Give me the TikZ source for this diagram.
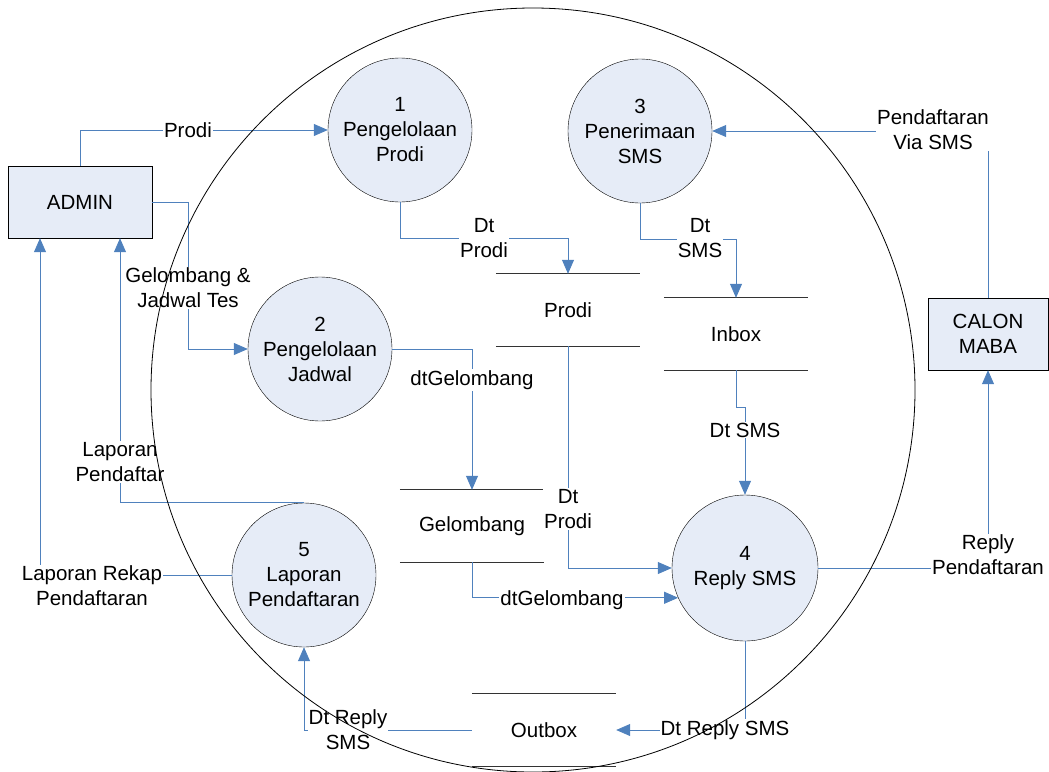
\documentclass[tikz,border=0pt]{standalone}
\usepackage{fontspec}
\setmainfont{Liberation Sans}
\usetikzlibrary{arrows.meta}
\definecolor{azul}{RGB}{79,129,189}
\definecolor{fundo}{RGB}{230,236,247}
\tikzset{
  processo/.style={circle, draw=black, fill=fundo, minimum size=144pt, inner sep=0pt, align=center},
  entidade/.style={rectangle, draw=black, fill=fundo, minimum height=72pt, inner sep=0pt, align=center},
  deposito/.style={minimum width=144pt, minimum height=72pt, inner sep=0pt},
  fluxo/.style={draw=azul, line width=0.8pt, -{Triangle[length=14pt,width=12pt]}},
  rotulo/.style={fill=white, inner sep=1pt, align=center}
}
\begin{document}
\begin{tikzpicture}[x=1pt, y=-1pt, font=\fontsize{20.5}{25}\selectfont]
\useasboundingbox (0,0) rectangle (1049,771);
% Entidades externas
\node at (80,202) (admin) [entidade, minimum width=144pt] {ADMIN};
\node at (988,334) (calon) [entidade, minimum width=120pt] {CALON\\MABA};
% Processos
\node at (400,130) (p1) [processo] {1\\Pengelolaan\\Prodi};
\node at (320,349) (p2) [processo] {2\\Pengelolaan\\Jadwal};
\node at (640,131) (p3) [processo] {3\\Penerimaan\\SMS};
\node at (745,568) (p4) [processo, minimum size=146pt] {4\\Reply SMS};
\node at (304,575) (p5) [processo] {5\\Laporan\\Pendaftaran};
% Depositos de dados
\node at (568,310) (prodi) [deposito] {Prodi};
\node at (736,334) (inbox) [deposito] {Inbox};
\node at (472,526) (gel) [deposito] {Gelombang};
\node at (544,730) (outbox) [deposito] {Outbox};
\foreach \s in {prodi, inbox, gel, outbox}
  \draw[line width=0.8pt, black!80] (\s.north west) -- (\s.north east) (\s.south west) -- (\s.south east);
% Fluxos
\draw[fluxo] (admin.north) |- (p1.west);
\draw[fluxo] (admin.east) -- ++(36,0) |- (p2.west);
\draw[fluxo] (p1.south) -- ++(0,36) -| (prodi.north);
\draw[fluxo] (p3.south) -- ++(0,36) -| (inbox.north);
\draw[fluxo] (calon.north) |- (p3.east);
\draw[fluxo] (p2.east) -| (gel.north);
\draw[fluxo] (prodi.south) |- (p4.west);
\draw[fluxo] (inbox.south) -- ++(0,37) -| (p4.north);
\draw[fluxo] (gel.south) |- (p4.204);
\draw[fluxo] (p4.east) -| (calon.south);
\draw[fluxo] (p4.south) |- (outbox.east);
\draw[fluxo] (outbox.west) -| (p5.south);
\draw[fluxo] (p5.north) -| ([xshift=40pt]admin.south);
\draw[fluxo] (p5.west) -| ([xshift=-40pt]admin.south);
% Rotulos
\node at (188,130) (lProdi) [rotulo] {Prodi};
\node at (188,288) (lJadwal) [rotulo] {Gelombang \&\\Jadwal Tes};
\node at (484,238) (lDtProdi) [rotulo] {Dt\\Prodi};
\node at (700,238) (lDtSms) [rotulo] {Dt\\SMS};
\node at (933,130) (lVia) [rotulo] {Pendaftaran\\Via SMS};
\node at (472,380) (lDtGel) [rotulo] {dtGelombang};
\node at (568,509) (lDtProdiB) [rotulo] {Dt\\Prodi};
\node at (745,430) (lDtSmsB) [rotulo] {Dt SMS};
\node at (562,600) (lDtGelB) [rotulo] {dtGelombang};
\node at (988,555) (lReply) [rotulo] {Reply\\Pendaftaran};
\node at (725,730) (lDtReply) [rotulo] {Dt Reply SMS};
\node at (348,730) (lDtReplyB) [rotulo] {Dt Reply\\SMS};
\node at (120,462) (lLapP) [rotulo] {Laporan\\Pendaftar};
\node at (92,586) (lLapR) [rotulo] {Laporan Rekap\\Pendaftaran};
% Fronteira do sistema
\draw[line width=0.8pt] (533,390) circle[radius=382pt];
\end{tikzpicture}
\end{document}
